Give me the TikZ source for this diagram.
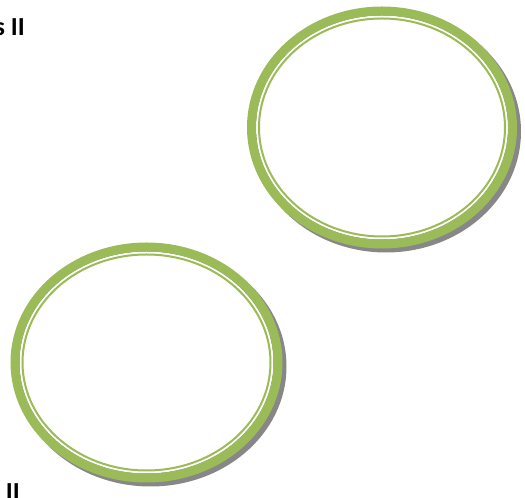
\documentclass[tikz,border=0pt]{standalone}
\usepackage{fontspec}
\setmainfont{Carlito}
\usepackage{xcolor}
\usepackage{tikz}

\definecolor{ringgreen}{RGB}{155,187,89}
\definecolor{ringshadow}{RGB}{135,135,135}

\begin{document}
\begin{tikzpicture}[x=1pt,y=1pt]
  \useasboundingbox (0,0) rectangle (525,498);
  \foreach \cx/\cy/\rx/\ry in {382/370.5/135/121, 146.5/135.5/136/120} {
    \fill[ringshadow] (\cx+4,\cy-4) ellipse ({\rx} and {\ry});
    \fill[white] (\cx,\cy) ellipse ({\rx-9} and {\ry-9});
    \draw[ringgreen,line width=9pt] (\cx,\cy) ellipse ({\rx-4.5} and {\ry-4.5});
    \draw[ringgreen,line width=2pt] (\cx,\cy) ellipse ({\rx-12} and {\ry-12});
  }
  \node[font=\bfseries\fontsize{26}{26}\selectfont,anchor=base east,inner sep=0pt]
    (titletop) at (25,462) {s II};
  \node[font=\bfseries\fontsize{26}{26}\selectfont,anchor=base east,inner sep=0pt]
    (titlebot) at (20,-3) {II};
\end{tikzpicture}
\end{document}
